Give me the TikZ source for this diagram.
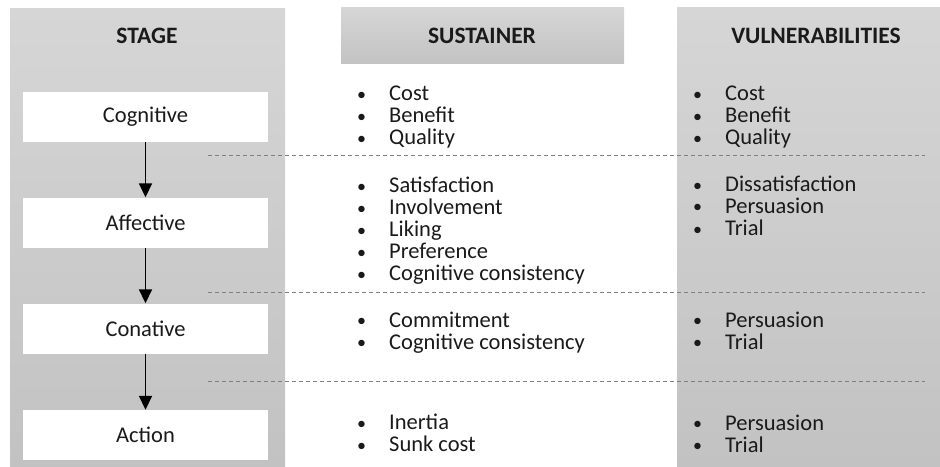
\documentclass[tikz,border=0pt]{standalone}
\usepackage{fontspec}
\setmainfont{Carlito}
\usetikzlibrary{arrows.meta}
\definecolor{coltop}{HTML}{D6D6D6}
\definecolor{colbot}{HTML}{C2C2C2}
\definecolor{hdrtop}{HTML}{D6D6D6}
\definecolor{hdrbot}{HTML}{C3C3C3}
\definecolor{txt}{HTML}{1A1A1A}
\definecolor{dashcol}{HTML}{7F7F7F}
\tikzset{
  column/.style={draw=none, top color=coltop, bottom color=colbot},
  header/.style={font=\fontsize{23.5}{25}\selectfont\bfseries, text=txt},
  stagebox/.style={draw=none, fill=white, minimum width=245pt, minimum height=50pt, inner sep=0pt,
     font=\fontsize{22.5}{24}\selectfont, text=txt},
  flow/.style={line width=1.7pt, -{Triangle[width=13pt,length=14pt]}},
  sep/.style={dashcol, line width=0.7pt, dash pattern=on 4pt off 3pt},
  listnode/.style={anchor=base west, inner sep=0pt, text=txt, font=\fontsize{22.5}{21.7}\selectfont}
}
\newcommand{\bul}[1]{\makebox[32pt][l]{\raisebox{0.5pt}{\scalebox{0.8}{•}}}#1\\}
\begin{document}
\begin{tikzpicture}[x=1pt,y=-1pt]
\useasboundingbox (0,0) rectangle (940,466);
% columns
\fill[column] (10,8) rectangle (285,466);
\fill[column] (677,7) rectangle (940,466);
\fill[top color=hdrtop, bottom color=hdrbot] (341,7) rectangle (624,63);
% headers
\node[header] (hstage) at (147,36) {STAGE};
\node[header] (hsust) at (482,36) {SUSTAINER};
\node[header] (hvuln) at (816,36) {VULNERABILITIES};
% stage boxes
\node[stagebox] (cog) at (145.5,117) {Cognitive};
\node[stagebox] (aff) at (145.5,222.5) {Affective};
\node[stagebox] (con) at (145.5,328.5) {Conative};
\node[stagebox] (act) at (145.5,435) {Action};
\draw[flow] (cog) -- (aff);
\draw[flow] (aff) -- (con);
\draw[flow] (con) -- (act);
% dashed separators
\coordinate (s1a) at (208,155); \coordinate (s1b) at (925,155);
\coordinate (s2a) at (208,292); \coordinate (s2b) at (925,292);
\coordinate (s3a) at (208,381); \coordinate (s3b) at (925,381);
\draw[sep] (s1a) -- (s1b);
\draw[sep] (s2a) -- (s2b);
\draw[sep] (s3a) -- (s3b);
% sustainer lists
\node[listnode] (su1) at (357,100.5) {\begin{tabular}[t]{@{}l@{}}\bul{Cost}\bul{Benefit}\bul{Quality}\end{tabular}};
\node[listnode] (su2) at (357,192.5) {\begin{tabular}[t]{@{}l@{}}\bul{Satisfaction}\bul{Involvement}\bul{Liking}\bul{Preference}\bul{Cognitive consistency}\end{tabular}};
\node[listnode] (su3) at (357,327) {\begin{tabular}[t]{@{}l@{}}\bul{Commitment}\bul{Cognitive consistency}\end{tabular}};
\node[listnode] (su4) at (357,429.5) {\begin{tabular}[t]{@{}l@{}}\bul{Inertia}\bul{Sunk cost}\end{tabular}};
% vulnerabilities lists
\node[listnode] (vu1) at (693,100.5) {\begin{tabular}[t]{@{}l@{}}\bul{Cost}\bul{Benefit}\bul{Quality}\end{tabular}};
\node[listnode] (vu2) at (693,191.5) {\begin{tabular}[t]{@{}l@{}}\bul{Dissatisfaction}\bul{Persuasion}\bul{Trial}\end{tabular}};
\node[listnode] (vu3) at (693,327) {\begin{tabular}[t]{@{}l@{}}\bul{Persuasion}\bul{Trial}\end{tabular}};
\node[listnode] (vu4) at (693,430) {\begin{tabular}[t]{@{}l@{}}\bul{Persuasion}\bul{Trial}\end{tabular}};
\end{tikzpicture}
\end{document}
